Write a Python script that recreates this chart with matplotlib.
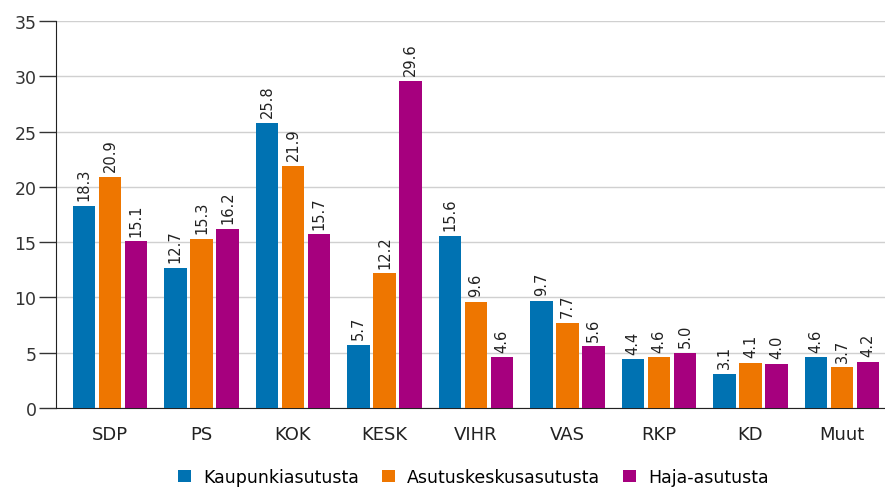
import numpy as np
import matplotlib.pyplot as plt

parties = ['SDP', 'PS', 'KOK', 'KESK', 'VIHR', 'VAS', 'RKP', 'KD', 'Muut']
kaupunki = [18.3, 12.7, 25.8, 5.7, 15.6, 9.7, 4.4, 3.1, 4.6]
asutuskeskus = [20.9, 15.3, 21.9, 12.2, 9.6, 7.7, 4.6, 4.1, 3.7]
haja = [15.1, 16.2, 15.7, 29.6, 4.6, 5.6, 5.0, 4.0, 4.2]
series_names = ['Kaupunkiasutusta', 'Asutuskeskusasutusta', 'Haja-asutusta']
colors = ['#0072b2', '#ee7600', '#a6007e']

fig = plt.figure(figsize=(8.85, 4.89), dpi=100)
ax = fig.add_axes([0.0633, 0.1636, 0.9367, 0.7914])

x = np.arange(len(parties))
width = 0.245
step = 0.285
for i, (vals, name, c) in enumerate(zip([kaupunki, asutuskeskus, haja], series_names, colors)):
    bars = ax.bar(x + (i - 1) * step, vals, width, color=c, label=name, zorder=3)
    for b, v in zip(bars, vals):
        ax.text(b.get_x() + b.get_width() / 2, v + 0.5, f'{v:.1f}', rotation=90,
                ha='center', va='bottom', fontsize=10.5, color='#222222')

ax.set_xlim(-0.59, 8.47)
ax.set_ylim(0, 35)
ax.set_yticks(range(0, 36, 5))
ax.set_xticks(x)
ax.set_xticklabels(parties)
ax.tick_params(axis='y', length=12, width=1, colors='#333333', labelsize=12.5, pad=2)
ax.tick_params(axis='x', length=0, labelsize=13, pad=12, colors='#222222')
ax.grid(axis='y', color='#d0d0d0', linewidth=1, zorder=0)
for s in ['top', 'right']:
    ax.spines[s].set_visible(False)
ax.spines['left'].set_color('#222222')
ax.spines['bottom'].set_color('#222222')

fig.legend(loc='lower center', bbox_to_anchor=(0.535, -0.028), ncol=3, frameon=False,
           fontsize=12.5, handlelength=0.75, handleheight=0.75, columnspacing=1.3,
           handletextpad=0.7)

fig.savefig('out.png', dpi=100)
